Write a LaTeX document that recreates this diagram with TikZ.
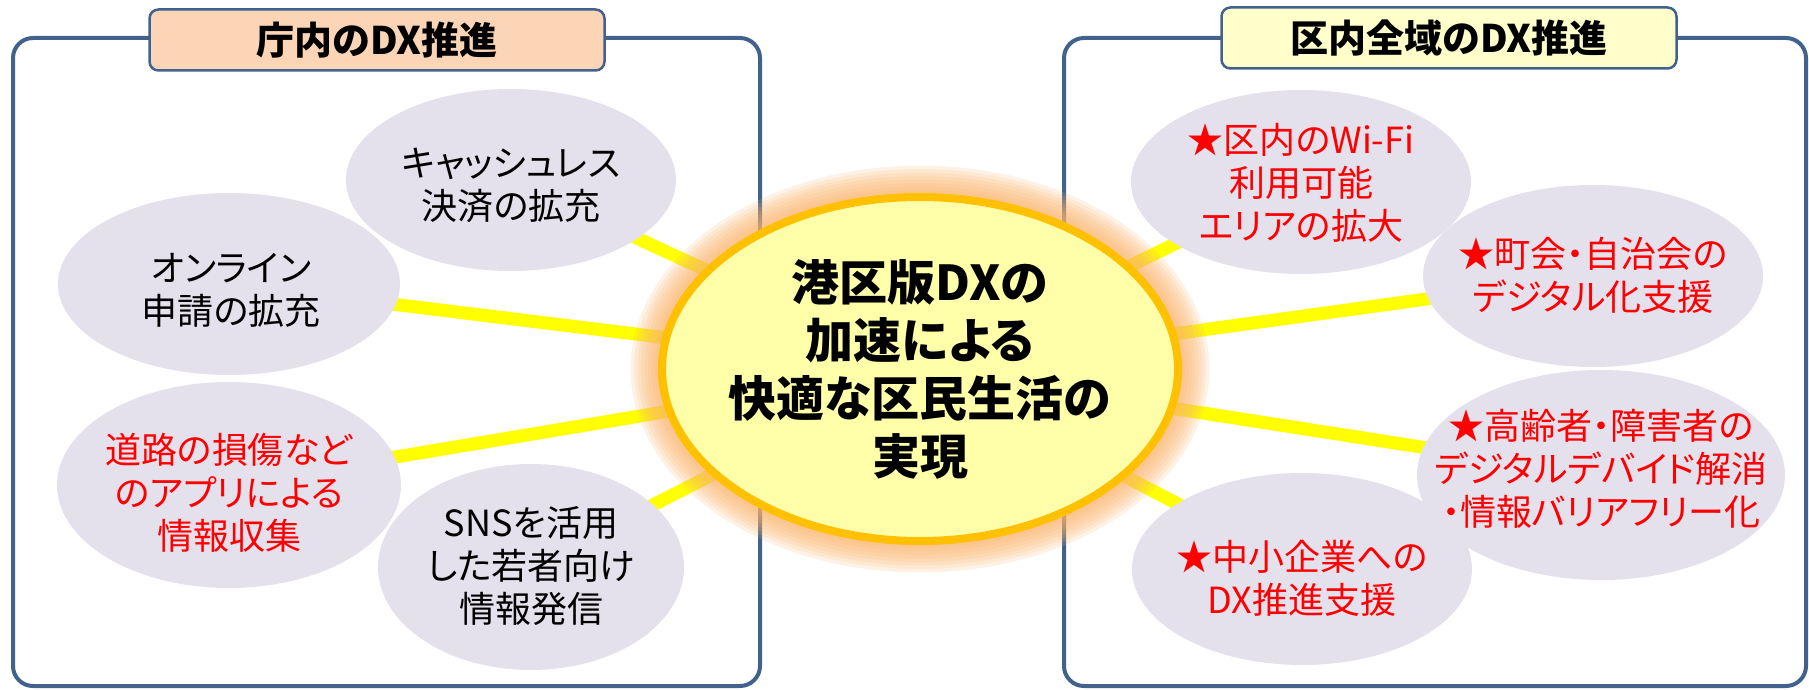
\documentclass[tikz,border=0pt]{standalone}
\usepackage{fontspec}
\newfontfamily\jpfont[RawFeature=+palt]{Noto Sans CJK JP}
\usetikzlibrary{shapes.geometric,backgrounds}
\definecolor{frameblue}{RGB}{64,98,140}
\definecolor{peach}{RGB}{251,213,181}
\definecolor{paleyellow}{RGB}{255,255,204}
\definecolor{satfill}{RGB}{228,224,236}
\definecolor{hubfill}{RGB}{255,255,170}
\definecolor{hubedge}{RGB}{255,192,0}
\definecolor{glow}{RGB}{250,180,110}
\definecolor{spokeyellow}{RGB}{255,255,0}
\tikzset{
    %frames and their title boxes
    frame/.style={draw=frameblue, line width=4pt, rounded corners=20pt},
    titlebox/.style={
      rectangle,
      rounded corners=9pt,
      draw=frameblue, line width=2.5pt,
      minimum width=455pt,
      minimum height=61pt,
      font=\jpfont\bfseries\fontsize{38}{44}\selectfont,
      text centered},
    %ellipses round the hub
    sat/.style={
      ellipse,
      fill=satfill,
      inner sep=0pt},
    sattext/.style={
      align=center,
      font=\jpfont\fontsize{36}{43}\selectfont},
    hub/.style={
      ellipse,
      fill=hubfill,
      draw=hubedge, line width=8pt,
      inner sep=0pt,
      minimum width=516pt,
      minimum height=344pt},
    hubtext/.style={
      align=center,
      font=\jpfont\bfseries\fontsize{48}{58}\selectfont},
    spoke/.style={draw=spokeyellow, line width=13pt},
}

\begin{document}
\begin{tikzpicture}[x=1pt,y=-1pt]
    \useasboundingbox (0,0) rectangle (1809,690);
    % hub
    \node (hub) [hub] at (920,369) {};
    \node (hubtxt) [hubtext] at (hub)
          {港区版DXの\\加速による\\快適な区民生活の\\実現};
    % inside the office
    \node (cash) [sat, minimum width=330pt, minimum height=182pt] at (511,180) {};
    \node (cashtxt) [sattext] at (511,185) {キャッシュレス\\決済の拡充};
    \node (online) [sat, minimum width=342pt, minimum height=182pt] at (229,284) {};
    \node (onlinetxt) [sattext] at (231,290) {オンライン\\申請の拡充};
    \node (road) [sat, minimum width=344pt, minimum height=206pt] at (229,485) {};
    \node (roadtxt) [sattext, red] at (229,493) {道路の損傷など\\のアプリによる\\情報収集};
    \node (sns) [sat, minimum width=306pt, minimum height=206pt] at (531,567) {};
    \node (snstxt) [sattext] at (531,566) {SNSを活用\\した若者向け\\情報発信};
    % across the ward
    \node (wifi) [sat, minimum width=340pt, minimum height=184pt] at (1301,182) {};
    \node (wifitxt) [sattext, red] at (1301,183) {★区内のWi-Fi\\利用可能\\エリアの拡大};
    \node (town) [sat, minimum width=340pt, minimum height=182pt] at (1593,276) {};
    \node (towntxt) [sattext, red] at (1593,275) {★町会・自治会の\\デジタル化支援};
    \node (elder) [sat, minimum width=368pt, minimum height=210pt] at (1601,475) {};
    \node (eldertxt) [sattext, red] at (1601,469) {★高齢者・障害者の\\デジタルデバイド解消\\・情報バリアフリー化};
    \node (smb) [sat, minimum width=340pt, minimum height=192pt] at (1302,569) {};
    \node (smbtxt) [sattext, red] at (1302,578) {★中小企業への\\DX推進支援};
    % titles
    \node (lefttitle) [titlebox, fill=peach] at (377,40) {庁内のDX推進};
    \node (righttitle) [titlebox, fill=paleyellow] at (1449,38) {区内全域のDX推進};
    \begin{scope}[on background layer]
      \draw[frame] (13,38) rectangle (760,686);
      \draw[frame] (1064,38) rectangle (1806,686);
      \foreach \s in {cash,online,road,sns,wifi,town,elder,smb}
        \draw[spoke] (hub.center) -- (\s.center);
      \foreach \k in {9,...,1}
        \fill[glow, opacity=0.17] (hub.center)
          ellipse [x radius=258+3.5*\k, y radius=172+3.5*\k];
    \end{scope}
\end{tikzpicture}
\end{document}
